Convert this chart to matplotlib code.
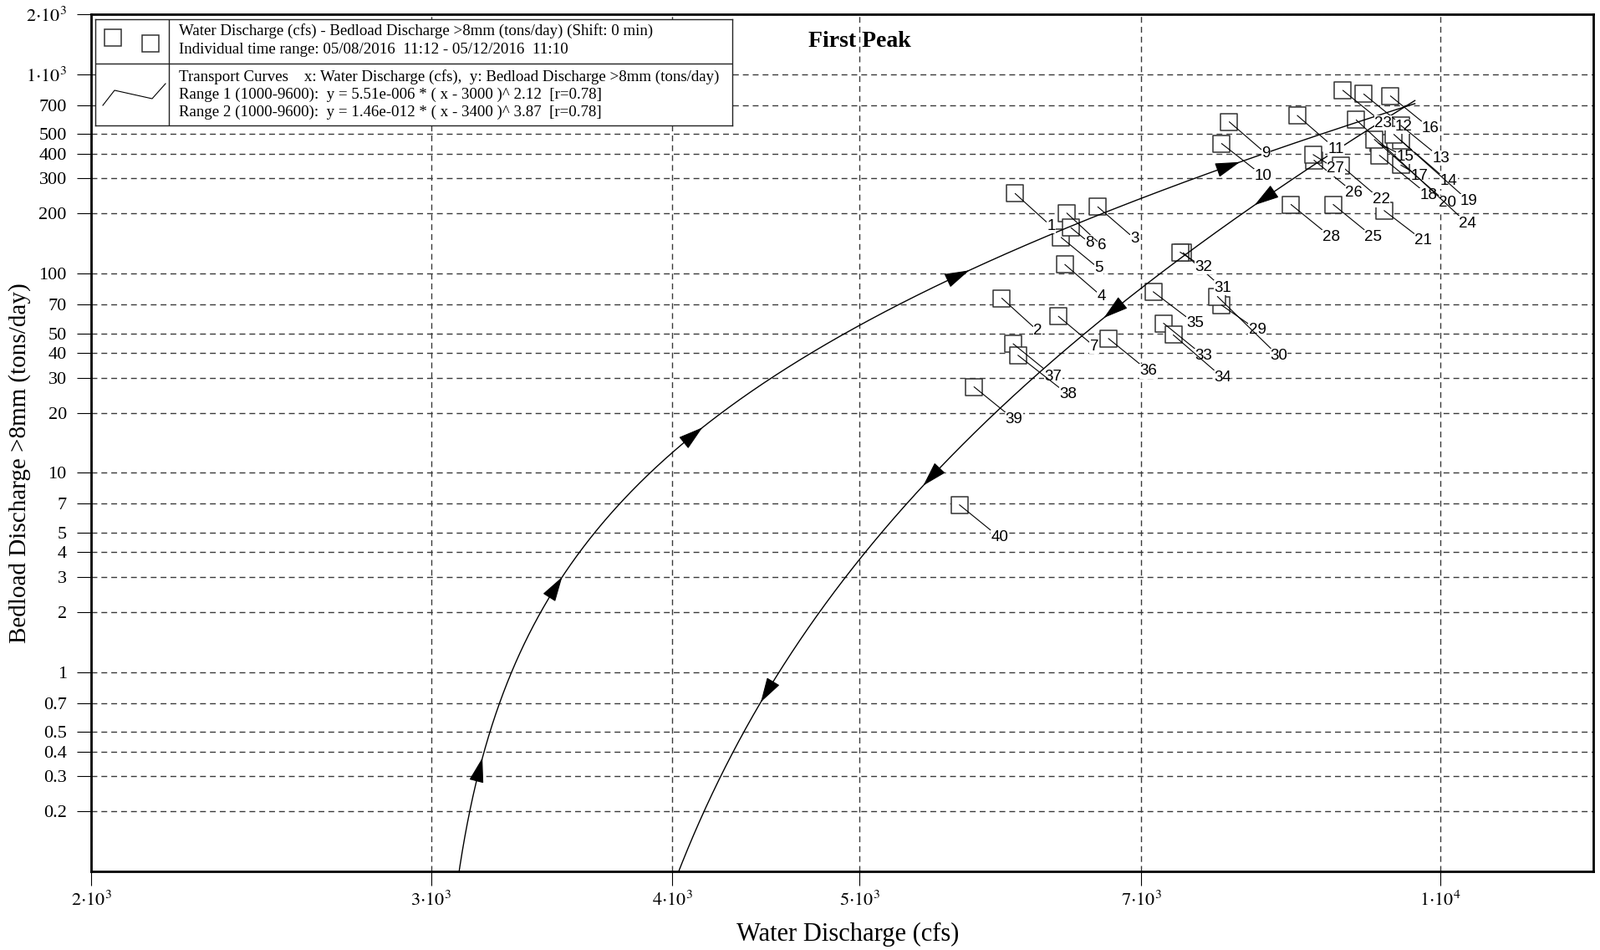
import numpy as np
import matplotlib
matplotlib.use('Agg')
import matplotlib.pyplot as plt

plt.rcParams['font.family'] = ['Liberation Serif', 'DejaVu Serif']
plt.rcParams['mathtext.fontset'] = 'stix'

# ---------------- data ----------------
point_ids = list(range(1, 41))
water_discharge = [6021, 5926, 6645, 6389, 6361, 6404, 6340, 6436, 7773, 7702,
                   8430, 9126, 9539, 9539, 9288, 9421, 9539, 9298, 9459, 9242,
                   9350, 8881, 8901, 9044, 8799, 8600, 8591, 8367, 7702, 7664,
                   7358, 7331, 7187, 7271, 7099, 6730, 6007, 6041, 5733, 5634]
bedload = [252, 75.2, 216, 111, 151.7, 201, 61.0, 169.7, 577, 449,
           621, 795, 553, 465, 450, 778, 350, 392, 499, 471,
           207, 348, 830, 590, 222, 370, 395, 222, 69.4, 76.7,
           127, 128, 56.3, 49.2, 81.0, 47.2, 44.4, 38.9, 27.0, 6.91]

# transport curves (from the legend)
curve1_coef, curve1_shift, curve1_exp = 5.51e-6, 3000, 2.12
curve2_coef, curve2_shift, curve2_exp = 1.46e-12, 3400, 3.87
curve_xmax = 9700
curve1_arrow_x = [3179, 3483, 4105, 5634, 7778]
curve2_arrow_x = [4475, 5444, 6761, 8097]

x_ticks = [2000, 3000, 4000, 5000, 7000, 10000]
x_tick_labels = [r'$2{\cdot}10^{3}$', r'$3{\cdot}10^{3}$', r'$4{\cdot}10^{3}$',
                 r'$5{\cdot}10^{3}$', r'$7{\cdot}10^{3}$', r'$1{\cdot}10^{4}$']
y_ticks = [0.2, 0.3, 0.4, 0.5, 0.7, 1, 2, 3, 4, 5, 7, 10, 20, 30, 40, 50, 70,
           100, 200, 300, 400, 500, 700, 1000, 2000]
y_tick_labels = ['0.2', '0.3', '0.4', '0.5', '0.7', '1', '2', '3', '4', '5', '7',
                 '10', '20', '30', '40', '50', '70', '100', '200', '300', '400',
                 '500', '700', r'$1{\cdot}10^{3}$', r'$2{\cdot}10^{3}$']

title = 'First Peak'
x_label = 'Water Discharge (cfs)'
y_label = 'Bedload Discharge >8mm (tons/day)'
legend_lines_1 = ['Water Discharge (cfs) - Bedload Discharge >8mm (tons/day) (Shift: 0 min)',
                  'Individual time range: 05/08/2016  11:12 - 05/12/2016  11:10']
legend_lines_2 = ['Transport Curves    x: Water Discharge (cfs),  y: Bedload Discharge >8mm (tons/day)',
                  'Range 1 (1000-9600):  y = 5.51e-006 * ( x - 3000 )^ 2.12  [r=0.78]',
                  'Range 2 (1000-9600):  y = 1.46e-012 * ( x - 3400 )^ 3.87  [r=0.78]']

# label offsets (pixels right, pixels down) from the marker centre
default_offset = (48, 39)
label_offsets = {1: (43, 39), 6: (42, 39), 8: (22, 18), 5: (45, 37), 3: (44, 38),
                 4: (44, 38), 2: (43, 39), 7: (43, 36), 9: (44, 38), 10: (50, 39),
                 32: (28, 18), 31: (47, 42), 35: (50, 38), 29: (43, 30), 30: (73, 71),
                 38: (60, 47), 34: (59, 51), 15: (32, 16), 17: (22, 13), 14: (57, 49),
                 18: (59, 48), 20: (87, 76), 19: (90, 80), 24: (133, 124),
                 11: (46, 40), 27: (27, 17), 22: (48, 41), 21: (47, 36)}

# ---------------- figure ----------------
W, H = 1915, 1136
fig = plt.figure(figsize=(W / 100, H / 100), dpi=100)
L, R, T, B = 109, 1906, 17, 1042
ax = fig.add_axes([L / W, 1 - B / H, (R - L) / W, (B - T) / H])
ax.set_xscale('log')
ax.set_yscale('log')
ax.set_xlim(2000, 12000)
ax.set_ylim(0.1, 2000)

ax.xaxis.set_major_locator(matplotlib.ticker.FixedLocator(x_ticks))
ax.xaxis.set_major_formatter(matplotlib.ticker.FixedFormatter(x_tick_labels))
ax.xaxis.set_minor_locator(matplotlib.ticker.NullLocator())
ax.yaxis.set_major_locator(matplotlib.ticker.FixedLocator(y_ticks))
ax.yaxis.set_major_formatter(matplotlib.ticker.FixedFormatter(y_tick_labels))
ax.yaxis.set_minor_locator(matplotlib.ticker.NullLocator())
ax.tick_params(axis='both', direction='out', length=12, width=0.8, labelsize=16, color='black')
ax.tick_params(axis='y', pad=9)
ax.tick_params(axis='x', pad=5)
for s in ax.spines.values():
    s.set_linewidth(2.0)
ax.grid(True, which='major', linestyle=(0, (5, 3.5)), color='#3a3a3a', linewidth=1.0, zorder=0)
ax.set_axisbelow(True)

# markers
ax.scatter(water_discharge, bedload, marker='s', s=14.5 ** 2, facecolors='white',
           edgecolors='#333333', linewidths=1.1, zorder=3)

# transport curves
def curve(xv, c, sh, e):
    return c * (xv - sh) ** e

for (c, sh, e, arr_x, fwd) in [(curve1_coef, curve1_shift, curve1_exp, curve1_arrow_x, True),
                               (curve2_coef, curve2_shift, curve2_exp, curve2_arrow_x, False)]:
    xs = sh + np.logspace(1, np.log10(curve_xmax - sh), 3000)
    ys = curve(xs, c, sh, e)
    ax.plot(xs, ys, color='black', lw=1.0, zorder=4)
    pts = ax.transData.transform(np.column_stack([xs, ys]))
    seg = np.hypot(np.diff(pts[:, 0]), np.diff(pts[:, 1]))
    sarc = np.concatenate([[0], np.cumsum(seg)])
    inv = ax.transData.inverted()
    for xc in arr_x:
        sc = np.interp(np.log(xc), np.log(xs), sarc)
        half = 13
        s_tip, s_tail = (sc + half, sc - half) if fwd else (sc - half, sc + half)
        tip = inv.transform([np.interp(s_tip, sarc, pts[:, 0]), np.interp(s_tip, sarc, pts[:, 1])])
        tail = inv.transform([np.interp(s_tail, sarc, pts[:, 0]), np.interp(s_tail, sarc, pts[:, 1])])
        ax.annotate('', xy=tip, xytext=tail, zorder=4,
                    arrowprops=dict(arrowstyle='-|>,head_length=0.95,head_width=0.28',
                                    mutation_scale=20, fc='black', ec='black', lw=0.8,
                                    shrinkA=0, shrinkB=0))

# point labels
for pid, xv, yv in zip(point_ids, water_discharge, bedload):
    dx, dy = label_offsets.get(pid, default_offset)
    ax.annotate(str(pid), xy=(xv, yv), xytext=(dx * 0.72, -dy * 0.72),
                textcoords='offset points', ha='center', va='center', fontsize=13.5,
                family=['Liberation Sans', 'DejaVu Sans'], zorder=5,
                bbox=dict(boxstyle='square,pad=0.02', fc='white', ec='none'),
                arrowprops=dict(arrowstyle='-', lw=0.8, color='black', shrinkA=0, shrinkB=0))

# titles / axis labels
fig.text(1028 / W, 1 - 49 / H, title, ha='center', va='center', fontsize=20, fontweight='bold')
fig.text(1014 / W, 1 - 1117 / H, x_label, ha='center', va='center', fontsize=22)
fig.text(24 / W, 1 - 554 / H, y_label, ha='center', va='center', fontsize=21, rotation=90)

# legend panel (pixel coordinates)
lx0, ly0, lx1, ly1 = 114, 22.5, 876, 150
lax = fig.add_axes([lx0 / W, 1 - ly1 / H, (lx1 - lx0) / W, (ly1 - ly0) / H])
lax.set_xlim(lx0, lx1)
lax.set_ylim(ly1, ly0)
lax.set_xticks([])
lax.set_yticks([])
lax.set_facecolor('white')
for s in lax.spines.values():
    s.set_linewidth(1.0)
    s.set_color('#222222')
lax.plot([202, 202], [ly0, ly1], color='#222222', lw=1.0)
lax.plot([lx0, lx1], [76, 76], color='#222222', lw=1.0)
lax.plot([135, 180], [45, 52], ls='none', marker='s', ms=14.5, mfc='white',
         mec='#333333', mew=1.1)
lax.plot([123, 137, 182, 198], [126, 108, 118, 100], color='black', lw=0.8)
for txt, yy in zip(legend_lines_1, [37, 60]):
    lax.text(214, yy, txt, ha='left', va='center', fontsize=13.6)
for txt, yy in zip(legend_lines_2, [92, 113.5, 134]):
    lax.text(214, yy, txt, ha='left', va='center', fontsize=13.6)

fig.savefig('out.png', dpi=100)
